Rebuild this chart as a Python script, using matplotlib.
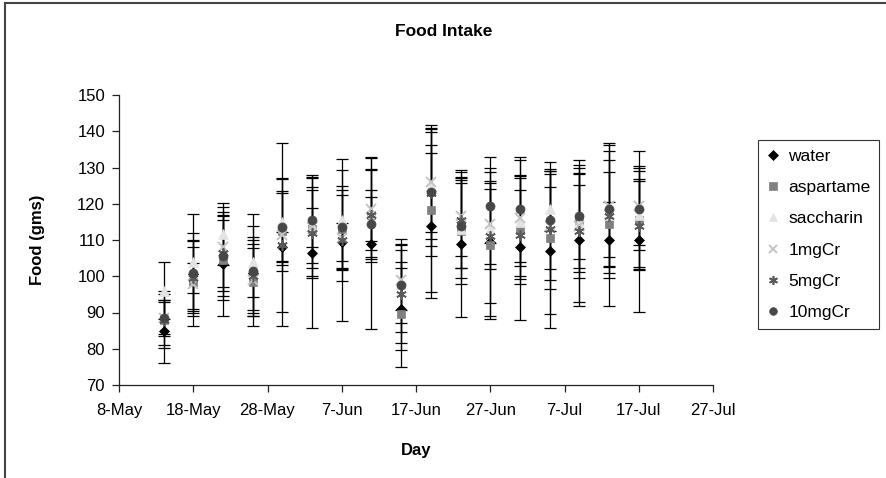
import matplotlib
matplotlib.use("Agg")
import matplotlib.pyplot as plt
import pandas as pd
from matplotlib.lines import Line2D

plt.rcParams['font.family'] = ['Liberation Sans', 'DejaVu Sans']

# ---------------- data ----------------
dates = ['14-May', '18-May', '22-May', '26-May', '30-May', '3-Jun', '7-Jun', '11-Jun',
         '15-Jun', '19-Jun', '23-Jun', '27-Jun', '1-Jul', '5-Jul', '9-Jul', '13-Jul', '17-Jul']

water = [84.8, 100.5, 103.3, 101.0, 108.0, 106.5, 109.5, 109.0, 91.0, 114.0, 109.0, 109.5, 108.0, 107.0, 110.0, 110.0, 110.0]
water_err = [8.6, 9.5, 14.3, 6.7, 4.2, 20.7, 5.2, 23.5, 11.3, 20.0, 20.3, 16.8, 20.0, 21.3, 18.2, 10.5, 19.8]

aspartame = [88.0, 98.5, 104.5, 98.5, 112.5, 113.0, 113.0, 116.8, 89.5, 118.2, 112.5, 108.5, 112.8, 110.5, 115.5, 114.3, 115.5]
aspartame_err = [7.8, 9.5, 11.0, 12.3, 11.0, 10.7, 10.7, 7.0, 14.4, 22.6, 14.7, 20.3, 14.8, 21.0, 14.3, 22.5, 13.5]

saccharin = [96.0, 103.8, 111.7, 104.0, 115.0, 114.0, 115.5, 117.5, 98.0, 125.0, 113.0, 113.0, 115.0, 118.5, 115.0, 117.0, 117.0]
saccharin_err = [7.8, 13.4, 8.6, 13.2, 12.0, 14.0, 13.8, 12.2, 10.9, 16.7, 13.5, 11.0, 12.2, 6.0, 10.3, 11.8, 9.8]

mg1 = [88.5, 98.0, 108.0, 99.0, 111.5, 113.5, 110.5, 118.5, 99.0, 126.0, 116.5, 114.5, 116.0, 114.0, 114.0, 119.5, 119.5]
mg1_err = [5.0, 11.8, 11.0, 10.0, 25.2, 5.3, 11.8, 14.5, 8.3, 13.8, 10.9, 11.2, 16.0, 15.0, 14.6, 16.7, 10.8]

mg5 = [88.0, 99.5, 106.5, 100.0, 108.5, 112.0, 110.0, 117.0, 95.0, 123.0, 115.5, 111.0, 111.5, 113.0, 112.5, 116.5, 114.0]
mg5_err = [7.0, 4.2, 10.5, 10.0, 18.4, 12.6, 22.4, 12.2, 13.5, 17.5, 13.3, 22.0, 12.2, 16.6, 19.5, 15.5, 12.2]

mg10 = [88.5, 101.0, 105.5, 101.5, 113.5, 115.5, 113.5, 114.5, 97.5, 123.3, 114.0, 119.5, 118.5, 115.5, 116.5, 118.5, 118.5]
mg10_err = [4.5, 11.0, 11.0, 12.5, 9.4, 11.8, 11.5, 7.3, 12.8, 13.0, 11.6, 10.4, 14.5, 13.4, 14.2, 16.0, 16.0]

series_names = ['water', 'aspartame', 'saccharin', '1mgCr', '5mgCr', '10mgCr']

x_tick_labels = ['8-May', '18-May', '28-May', '7-Jun', '17-Jun', '27-Jun', '7-Jul', '17-Jul', '27-Jul']
y_ticks = [70, 80, 90, 100, 110, 120, 130, 140, 150]

# ---------------- styles ----------------
styles = {
    'water':     dict(marker='D', color='#000000', ms=5.5, mew=0.5),
    'aspartame': dict(marker='s', color='#808080', ms=6.0, mew=0.5),
    'saccharin': dict(marker='^', color='#e3e3e3', ms=7.0, mew=0.5),
    '1mgCr':     dict(marker='x', color='#c4c4c4', ms=7.0, mew=1.4),
    '5mgCr':     dict(marker=(6, 2, 0), color='#5a5a5a', ms=7.5, mew=1.2),
    '10mgCr':    dict(marker='o', color='#474747', ms=6.5, mew=0.5),
}

def to_dt(labels):
    return pd.to_datetime([s + '-2007' for s in labels], format='%d-%b-%Y')

x = to_dt(dates)
xt = to_dt(x_tick_labels)

vals = {'water': (water, water_err), 'aspartame': (aspartame, aspartame_err),
        'saccharin': (saccharin, saccharin_err), '1mgCr': (mg1, mg1_err),
        '5mgCr': (mg5, mg5_err), '10mgCr': (mg10, mg10_err)}

W, H = 887, 478
L, R, T, B = 119, 713, 95, 385
fig = plt.figure(figsize=(W / 100, H / 100), dpi=100)
ax = fig.add_axes([L / W, 1 - B / H, (R - L) / W, (B - T) / H])

for name in series_names:
    v, e = vals[name]
    ax.errorbar(x, v, yerr=e, fmt='none', ecolor='black', elinewidth=0.9,
                capsize=4.5, capthick=0.9, zorder=2)

handles = []
for name in series_names:
    v, e = vals[name]
    st = styles[name]
    mec = st['color']
    ax.plot(x, v, linestyle='none', marker=st['marker'], color=st['color'],
            markersize=st['ms'], markeredgecolor=mec, markeredgewidth=st['mew'], zorder=3)
    handles.append(Line2D([], [], linestyle='none', marker=st['marker'], color=st['color'],
                          markersize=st['ms'] * 0.85, markeredgecolor=mec,
                          markeredgewidth=st['mew'], label=name))

ax.set_xlim(xt[0], xt[-1])
ax.set_xticks(xt)
ax.set_xticklabels(x_tick_labels)
ax.set_ylim(y_ticks[0], y_ticks[-1])
ax.set_yticks(y_ticks)

for s in ['top', 'right']:
    ax.spines[s].set_visible(False)
for s in ['left', 'bottom']:
    ax.spines[s].set_linewidth(0.9)
    ax.spines[s].set_color('#222222')
ax.tick_params(axis='both', direction='out', length=5, width=0.9, color='#222222',
               labelsize=12)
ax.tick_params(axis='x', pad=8)
ax.tick_params(axis='y', pad=5)

ax.set_ylabel('Food (gms)', fontsize=12, fontweight='bold')
ax.yaxis.set_label_coords((45 - L) / (R - L), 0.5)
ax.set_xlabel('Day', fontsize=12, fontweight='bold')
ax.xaxis.set_label_coords(0.5, -(443 - B) / (B - T))

fig.text(0.5, 1 - 32 / H, 'Food Intake', ha='center', va='center',
         fontsize=12.5, fontweight='bold')

leg = fig.legend(handles=handles, loc='upper left',
                 bbox_to_anchor=(758 / W, 1 - 140 / H), bbox_transform=fig.transFigure,
                 fontsize=12.5, frameon=True, fancybox=False, shadow=False,
                 labelspacing=0.93, handlelength=0.7, handletextpad=0.55,
                 borderpad=0.5, borderaxespad=0)
leg.get_frame().set_edgecolor('black')
leg.get_frame().set_linewidth(0.8)

# outer chart border (left and top edges visible)
fig.add_artist(Line2D([5 / W, 5 / W], [0, 1 - 3 / H], transform=fig.transFigure,
                      color='#444444', lw=1.5))
fig.add_artist(Line2D([5 / W, 1], [1 - 3 / H, 1 - 3 / H], transform=fig.transFigure,
                      color='#444444', lw=1.5))

fig.savefig('out.png', dpi=100)
